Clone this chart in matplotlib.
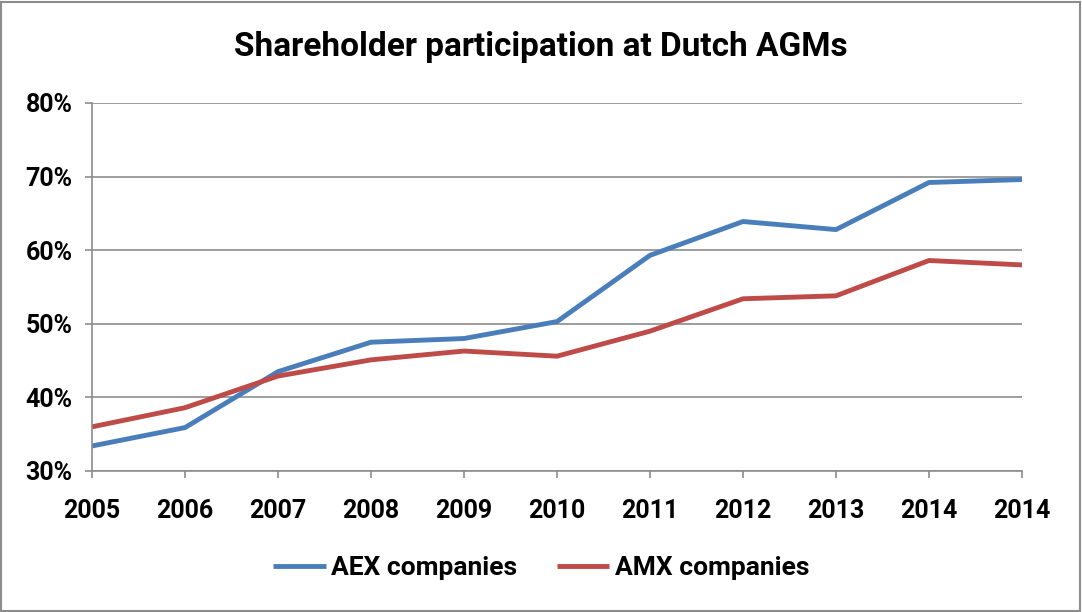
import matplotlib
matplotlib.use("Agg")
import matplotlib.pyplot as plt
from matplotlib.ticker import PercentFormatter
from matplotlib.patches import Rectangle

years = ["2005", "2006", "2007", "2008", "2009", "2010", "2011", "2012", "2013", "2014", "2014"]
aex = [33.4, 35.9, 43.5, 47.5, 48.0, 50.3, 59.3, 63.9, 62.8, 69.2, 69.6]
amx = [36.0, 38.6, 42.9, 45.1, 46.3, 45.6, 49.0, 53.4, 53.8, 58.6, 58.0]
yticks = [30, 40, 50, 60, 70, 80]

plt.rcParams["font.family"] = ["Roboto", "DejaVu Sans"]
plt.rcParams["font.weight"] = "bold"

fig = plt.figure(figsize=(10.82, 6.12), dpi=100)
W, H = 1082, 612
ax = fig.add_axes([92 / W, 1 - 471 / H, (1022 - 92) / W, (471 - 103) / H])

x = range(len(years))
ax.plot(x, aex, color="#4A7EBB", lw=3.5, label="AEX companies", solid_capstyle="butt")
ax.plot(x, amx, color="#BE4B48", lw=3.5, label="AMX companies", solid_capstyle="butt")

ax.set_xlim(0, len(years) - 1)
ax.set_ylim(30, 80)
ax.set_xticks(list(x))
ax.set_xticklabels(years)
ax.set_yticks(yticks)
ax.yaxis.set_major_formatter(PercentFormatter(decimals=0))
ax.grid(True, axis="y", color="#8c8c8c", lw=1.2)
ax.set_axisbelow(True)
for s in ["top", "right"]:
    ax.spines[s].set_visible(False)
for s in ["left", "bottom"]:
    ax.spines[s].set_color("#8c8c8c")
    ax.spines[s].set_linewidth(1.2)
ax.tick_params(axis="both", colors="#8c8c8c", width=1.2, length=5, labelsize=18,
               labelcolor="black")
ax.tick_params(axis="x", pad=15)
ax.tick_params(axis="y", pad=9)

fig.text(0.5, 1 - 47 / H, "Shareholder participation at Dutch AGMs", ha="center",
         va="center", fontsize=24, fontweight="bold")

fig.legend(loc="center", bbox_to_anchor=(0.5, 1 - 568 / H), ncol=2, frameon=False,
           fontsize=19, handlelength=2.0, columnspacing=1.5, handletextpad=0.2)

fig.patches.append(Rectangle((0.001, 0.002), 0.997, 0.995, transform=fig.transFigure,
                             fill=False, edgecolor="#8c8c8c", lw=1.5))

fig.savefig("out.png", dpi=100)
